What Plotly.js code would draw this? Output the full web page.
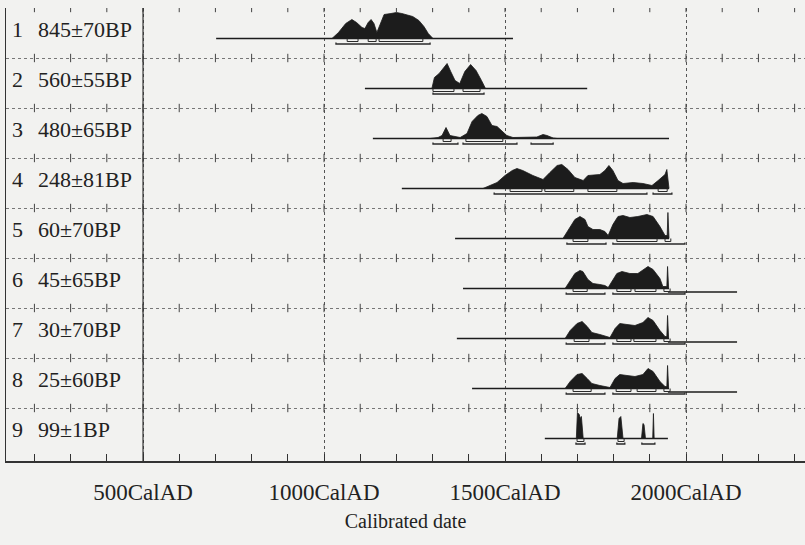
<!DOCTYPE html>
<html>
<head>
<meta charset="utf-8">
<script src="https://cdn.plot.ly/plotly-3.0.1.min.js"></script>
<style>html,body{margin:0;padding:0;background:#f2f2f0;}</style>
</head>
<body>
<div id="chart" style="width:805px;height:545px;"></div>
<script>
// ---- Data ----
const rowLabels = ['845±70BP','560±55BP','480±65BP','248±81BP','60±70BP','45±65BP','30±70BP','25±60BP','99±1BP'];
const xTickVals = [500, 1000, 1500, 2000];
const xTickText = ['500CalAD', '1000CalAD', '1500CalAD', '2000CalAD'];
const xTitle = 'Calibrated date';

// calibrated probability distributions (year AD, relative probability)
const r1Years = [1022,1040,1060,1077,1090,1105,1113,1122,1130,1138,1146,1155,1166,1185,1200,1215,1228,1245,1262,1276,1288,1301];
const r1Prob  = [0,6,15,19,16,11,10,16,19,15,6,14,24,25,26,25,24,22,18,12,5,0];
const r2Years = [1298,1305,1318,1330,1340,1350,1362,1375,1389,1405,1420,1435,1446];
const r2Prob  = [0,11,15,20,25,17,8,5,17,24,18,8,0];
const r3Years = [1293,1315,1326,1337,1348,1376,1395,1409,1425,1436,1450,1464,1478,1492,1505,1522,1550,1588,1605,1616,1633,1644];
const r3Prob  = [0,1,3,11,3,1,5,17,23,25,22,13,12,7,3,1,1,1.5,4,3,0.5,0];
const r4Years = [1439,1478,1500,1520,1533,1549,1577,1605,1624,1644,1657,1674,1693,1716,1729,1762,1776,1787,1798,1812,1826,1854,1881,1906,1923,1942,1947,1950,1953];
const r4Prob  = [0,6,13,18,20,18,13,9,16,23,24,19,11,8,13,14,18,23,18,8,5,6,5,3,8,14,19,5,0];
const r5Years = [1660,1680,1693,1707,1721,1729,1743,1762,1776,1785,1798,1812,1826,1845,1867,1892,1909,1928,1942,1948,1950,1953];
const r5Prob  = [0,12,19,22,19,12,9,9,7,3,14,22,23,21,22,24,22,12,3,3,26,0];
const r6Years = [1666,1680,1693,1707,1715,1729,1743,1762,1776,1785,1798,1809,1823,1845,1867,1887,1895,1909,1928,1936,1947,1949,1952];
const r6Prob  = [0,8,15,18,17,9,5,4,3,1,9,15,17,15,15,20,22,19,10,2,2,22,0];
const r7Years = [1666,1680,1699,1713,1727,1740,1762,1782,1790,1804,1817,1837,1859,1881,1895,1909,1928,1942,1947,1949,1952];
const r7Prob  = [0,8,15,17,12,6,4,2,1,10,15,14,13,16,21,18,8,2,2,23,0];
const r8Years = [1666,1680,1699,1713,1727,1740,1762,1782,1790,1804,1817,1837,1859,1881,1895,1909,1928,1942,1947,1949,1952];
const r8Prob  = [0,7,14,15,10,5,3,2,1,10,14,13,12,14,20,17,7,2,2,23,0];
const r9Years = [1697,1700,1705,1708,1711,1716,1810,1815,1820,1826,1877,1881,1884,1888,1908,1910,1912];
const r9Prob  = [0,26,24,20,22,0,0,20,22,0,0,15,14,0,0,25,0];

// plotted range of each row (baseline start / end, year AD)
const baseStart = [702,1113,1135,1215,1362,1384,1367,1409,1610];
const baseEnd   = [1522,1727,1956,1956,1956,2141,2141,2141,1950];

// 68.2% and 95.4% ranges
const r68 = [
  [[1064,1094],[1122,1144],[1152,1273]],
  [[1301,1359],[1384,1431]],
  [[1329,1351],[1392,1494]],
  [[1514,1602],[1610,1690],[1729,1809],[1923,1948]],
  [[1688,1729],[1809,1920],[1942,1958]],
  [[1688,1727],[1809,1848],[1859,1917],[1939,1956]],
  [[1691,1732],[1809,1848],[1856,1917],[1939,1956]],
  [[1688,1738],[1807,1848],[1865,1917],[1939,1956]],
  [[1699,1718],[1812,1829]]
];
const r95 = [
  [[1033,1293]],
  [[1301,1442]],
  [[1301,1370],[1384,1533],[1572,1633]],
  [[1470,1892],[1909,1961]],
  [[1671,1779],[1798,1997]],
  [[1669,1776],[1798,1997]],
  [[1669,1776],[1798,1997]],
  [[1669,1776],[1798,1997]],
  [[1696,1721],[1809,1831],[1878,1914]]
];

const allYears = [r1Years,r2Years,r3Years,r4Years,r5Years,r6Years,r7Years,r8Years,r9Years];
const allProb  = [r1Prob,r2Prob,r3Prob,r4Prob,r5Prob,r6Prob,r7Prob,r8Prob,r9Prob];

// ---- Drawing ----
const nRows = rowLabels.length;
const BASE_OFF = 0.39;     // baseline position inside a row (row units)
const PSCALE = 1/50;       // probability units -> row units
const D68 = 0.06, D95 = 0.11, T95 = 0.08, EXT = 0.07;
const INK = '#1c1c1c';
const traces = [];

for (let i = 0; i < nRows; i++) {
  const base = (nRows - 1 - i) + BASE_OFF;
  traces.push({
    type:'scatter', mode:'lines', x: allYears[i],
    y: allProb[i].map(p => base + p*PSCALE),
    fill:'toself', fillcolor: INK, line:{color: INK, width:0.8},
    hoverinfo:'skip'
  });
  const bx = [], by = [];
  const mainEnd = Math.min(baseEnd[i], 1953);
  bx.push(baseStart[i], mainEnd, null); by.push(base, base, null);
  if (baseEnd[i] > 1960) { bx.push(1950, baseEnd[i]); by.push(base-EXT, base-EXT); }
  traces.push({type:'scatter', mode:'lines', x: bx, y: by, line:{color: INK, width:1.6}, hoverinfo:'skip'});
  const ax = [], ay = [];
  r68[i].forEach(([a,b]) => { ax.push(a,a,b,b,null); ay.push(base, base-D68, base-D68, base, null); });
  traces.push({type:'scatter', mode:'lines', x: ax, y: ay, line:{color:'#2a2a2a', width:1}, hoverinfo:'skip'});
  const cx = [], cy = [];
  r95[i].forEach(([a,b]) => { cx.push(a,a,b,b,null); cy.push(base-T95, base-D95, base-D95, base-T95, null); });
  traces.push({type:'scatter', mode:'lines', x: cx, y: cy, line:{color:'#2a2a2a', width:1.3}, hoverinfo:'skip'});
}

// little cross ticks on the row separators, every 100 years
const tx = [], ty = [];
for (let r = 1; r <= nRows; r++) {
  for (let yr = 200; yr <= 2300; yr += 100) { tx.push(yr); ty.push(r); }
}
traces.push({type:'scatter', mode:'markers', x: tx, y: ty,
  marker:{symbol:'line-ns-open', color:'#444', size:6, line:{color:'#444', width:1}}, hoverinfo:'skip'});

const annotations = [];
const SERIF = 'Liberation Serif, Times New Roman, serif';
rowLabels.forEach((lab, i) => {
  const yc = (nRows - 1 - i) + 0.5 + 0.08;
  annotations.push({xref:'paper', yref:'y', x:0.005, y:yc, xanchor:'left', yanchor:'middle',
    text: String(i+1), showarrow:false, font:{family:SERIF, size:22, color:'#222'}});
  annotations.push({xref:'paper', yref:'y', x:0.0375, y:yc, xanchor:'left', yanchor:'middle',
    text: lab, showarrow:false, font:{family:SERIF, size:22, color:'#222'}});
});

const layout = {
  width:805, height:545,
  margin:{l:6, r:0, t:8, b:84},
  paper_bgcolor:'#f2f2f0', plot_bgcolor:'#f2f2f0',
  showlegend:false,
  xaxis:{
    range:[121.5, 2328.7], tickvals:xTickVals, ticktext:xTickText,
    ticks:'inside', ticklen:7, tickcolor:'#333', tickwidth:1,
    showline:true, linecolor:'#333', linewidth:1.5,
    showgrid:true, gridcolor:'#555', griddash:'dot', gridwidth:1,
    minor:{dtick:100, tick0:0, ticks:'inside', ticklen:7, tickcolor:'#333', showgrid:false},
    tickfont:{family:SERIF, size:23, color:'#222'},
    ticklabelstandoff:10,
    zeroline:false, automargin:false,
    title:{text:xTitle, font:{family:SERIF, size:20, color:'#222'}, standoff:10}
  },
  yaxis:{
    range:[-0.06, 9.0], tickvals:[1,2,3,4,5,6,7,8,9], showticklabels:false, ticks:'',
    showgrid:true, gridcolor:'#777', griddash:'dot', gridwidth:1,
    showline:true, linecolor:'#333', linewidth:1.5, zeroline:false, automargin:false
  },
  shapes:[{type:'line', xref:'x', yref:'paper', x0:500, x1:500, y0:0, y1:1, line:{color:'#333', width:1.2}}],
  annotations: annotations
};

Plotly.newPlot('chart', traces, layout, {staticPlot:true, displayModeBar:false});
</script>
</body>
</html>
